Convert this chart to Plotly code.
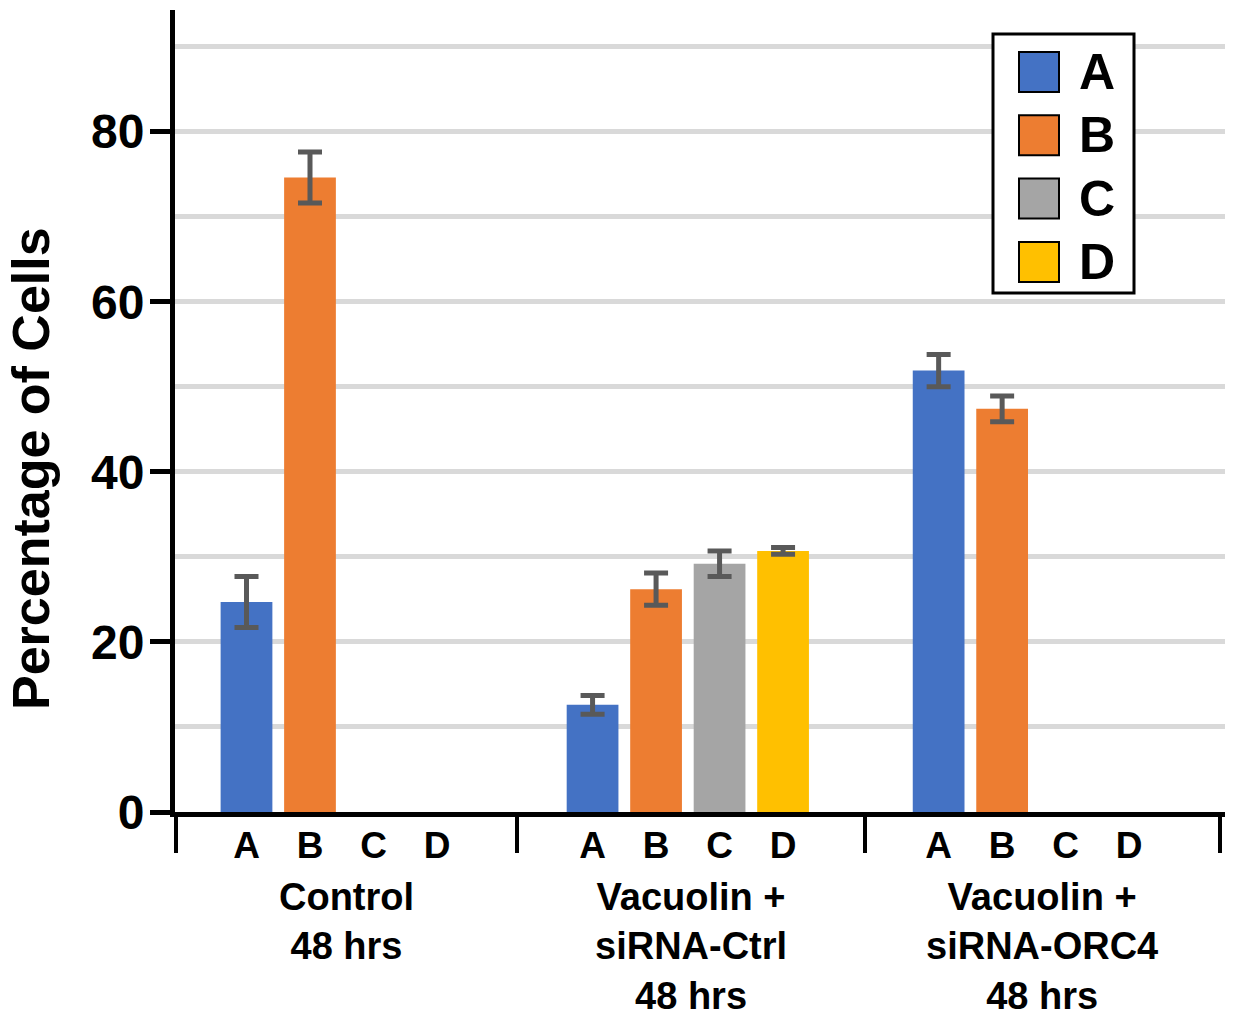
import plotly.graph_objects as go

# ---------------- data ----------------
groups = ["Control<br>48 hrs", "Vacuolin +<br>siRNA-Ctrl<br>48 hrs", "Vacuolin +<br>siRNA-ORC4<br>48 hrs"]
categories = ["A", "B", "C", "D"]
series_colors = ["#4472C4", "#ED7D31", "#A5A5A5", "#FFC000"]

vals_A = [24.7, 12.6, 51.9]
vals_B = [74.6, 26.2, 47.4]
vals_C = [None, 29.2, None]
vals_D = [None, 30.7, None]

err_A = [3.0, 1.1, 1.9]
err_B = [3.0, 1.9, 1.5]
err_C = [None, 1.5, None]
err_D = [None, 0.4, None]

y_tick_vals = [0, 20, 40, 60, 80]

values = [vals_A, vals_B, vals_C, vals_D]
errors = [err_A, err_B, err_C, err_D]

# ---------------- layout constants ----------------
# the page body has an 8px margin, so the figure is 8px smaller and
# positions below are given in the full 1233x1015 frame.
W, H = 1225, 1007
ML, MR, MT, MB = 167, 5, 2, 203
PW, PH = W - ML - MR, H - MT - MB
PLOT_LEFT_REF, PLOT_BOTTOM_REF = 175, 812
GROUP_STEP = 5.45
X_RANGE = [-1.126, 15.457]
SEPARATORS = [-1.118, 4.26, 9.74, 15.33]
Y_RANGE = [0, 94.3]
FONT = "Liberation Sans, Arial, sans-serif"


def px_x(p):
    return (p - PLOT_LEFT_REF) / PW


def px_y(p):
    return (PLOT_BOTTOM_REF - p) / PH


fig = go.Figure()
for k, cat in enumerate(categories):
    xs = [g * GROUP_STEP + k for g in range(len(groups))]
    fig.add_trace(go.Bar(
        x=xs, y=values[k], name=cat,
        marker=dict(color=series_colors[k], line=dict(width=0)),
        width=0.815,
        error_y=dict(type="data", array=errors[k], color="#595959",
                     thickness=5, width=12, visible=True),
        showlegend=False,
    ))

tick_x = [g * GROUP_STEP + k for g in range(len(groups)) for k in range(len(categories))]
tick_t = [c for _ in groups for c in categories]

annotations = []
# group labels centred between separators
for g, lab in enumerate(groups):
    cx = (SEPARATORS[g] + SEPARATORS[g + 1]) / 2
    annotations.append(dict(
        x=cx, xref="x", y=px_y(874), yref="paper", yanchor="top", xanchor="center",
        text=lab, showarrow=False, align="center",
        font=dict(family=FONT, size=38, color="black", weight="bold"),
    ))

# y axis title
annotations.append(dict(
    x=px_x(31), xref="paper", y=px_y(468), yref="paper",
    text="Percentage of Cells", textangle=-90, showarrow=False,
    xanchor="center", yanchor="middle",
    font=dict(family=FONT, size=52, color="black", weight="bold"),
))

# manual legend (box + big swatches)
shapes = [dict(type="rect", xref="paper", yref="paper",
               x0=px_x(993), x1=px_x(1134), y0=px_y(293), y1=px_y(34),
               line=dict(color="black", width=3), fillcolor="white", layer="above")]
for k, cat in enumerate(categories):
    cy = 72 + 63.3 * k
    shapes.append(dict(type="rect", xref="paper", yref="paper",
                       x0=px_x(1019), x1=px_x(1059), y0=px_y(cy + 20), y1=px_y(cy - 20),
                       line=dict(color="black", width=2), fillcolor=series_colors[k],
                       layer="above"))
    annotations.append(dict(
        x=px_x(1097), xref="paper", y=px_y(cy), yref="paper",
        text=cat, showarrow=False, xanchor="center", yanchor="middle",
        font=dict(family=FONT, size=50, color="black", weight="bold"),
    ))

fig.update_layout(
    width=W, height=H,
    margin=dict(l=ML, r=MR, t=MT, b=MB, pad=0),
    paper_bgcolor="white", plot_bgcolor="white",
    barmode="overlay",
    showlegend=False,
    annotations=annotations,
    shapes=shapes,
    font=dict(family=FONT, color="black"),
)

fig.update_xaxes(
    range=X_RANGE,
    tickmode="array", tickvals=tick_x, ticktext=tick_t,
    ticks="", showgrid=False, zeroline=False,
    showline=True, linecolor="black", linewidth=5,
    tickfont=dict(family=FONT, size=37, color="black", weight="bold"),
    ticklabelstandoff=-3,
    minor=dict(tickmode="array", tickvals=SEPARATORS, ticks="outside",
               ticklen=36, tickwidth=4, tickcolor="black", showgrid=False),
)

fig.update_yaxes(
    range=Y_RANGE,
    tickmode="array", tickvals=y_tick_vals,
    ticks="outside", ticklen=20, tickwidth=5, tickcolor="black",
    showline=True, linecolor="black", linewidth=5,
    showgrid=True, gridcolor="#D9D9D9", gridwidth=5,
    zeroline=False,
    tickfont=dict(family=FONT, size=48, color="black", weight="bold"),
    ticklabelstandoff=-4,
    minor=dict(dtick=10, tick0=0, showgrid=True, gridcolor="#D9D9D9", gridwidth=5, ticks=""),
)

fig.write_html("out.html")
